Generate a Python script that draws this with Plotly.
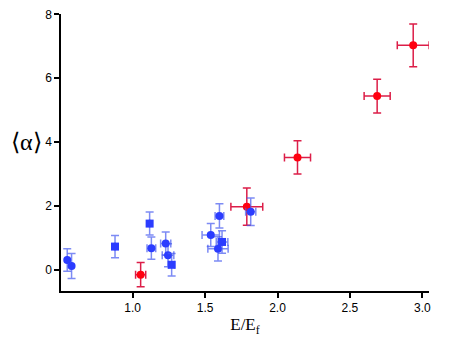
import plotly.graph_objects as go

# blue circles
bc_x = [0.548, 0.578, 1.129, 1.228, 1.244, 1.539, 1.599, 1.589, 1.815]
bc_y = [0.31, 0.125, 0.68, 0.83, 0.46, 1.09, 1.69, 0.66, 1.82]
bc_ey = [0.35, 0.39, 0.35, 0.36, 0.36, 0.36, 0.38, 0.38, 0.43]
bc_ex = [0.0, 0.0, 0.03, 0.035, 0.04, 0.06, 0.03, 0.07, 0.035]

# blue squares
bs_x = [0.878, 1.117, 1.269, 1.617]
bs_y = [0.73, 1.45, 0.16, 0.875]
bs_ey = [0.35, 0.36, 0.35, 0.35]
bs_ex = [0.0, 0.0, 0.02, 0.04]

# red circles
r_x = [1.055, 1.788, 2.138, 2.688, 2.937]
r_y = [-0.15, 1.98, 3.52, 5.44, 7.03]
r_ey = [0.38, 0.58, 0.52, 0.53, 0.67]
r_ex = [0.035, 0.11, 0.09, 0.09, 0.11]

BLUE = "#2b3cff"
BLUE_ERR = "rgba(70,90,240,0.7)"
RED = "#ff0010"
RED_ERR = "#dc1e48"


def trace(x, y, ex, ey, color, ecolor, symbol):
    return go.Scatter(
        x=x, y=y, mode="markers", showlegend=False,
        marker=dict(color=color, size=8, symbol=symbol, line=dict(width=0)),
        error_y=dict(type="data", array=ey, color=ecolor, thickness=1.5, width=4),
        error_x=dict(type="data", array=ex, color=ecolor, thickness=1.5, width=4),
    )


fig = go.Figure()
fig.add_trace(trace(r_x, r_y, r_ex, r_ey, RED, RED_ERR, "circle"))
fig.add_trace(trace(bc_x, bc_y, bc_ex, bc_ey, BLUE, BLUE_ERR, "circle"))
fig.add_trace(trace(bs_x, bs_y, bs_ex, bs_ey, BLUE, BLUE_ERR, "square"))

axis_common = dict(
    showline=True, linecolor="black", linewidth=1.5, mirror=False,
    ticks="outside", ticklen=5, tickwidth=1.5, tickcolor="black",
    showgrid=False, zeroline=False, automargin=False, ticklabeloverflow="allow",
    tickfont=dict(family="Liberation Sans, Arial", size=12, color="black"),
)

fig.update_xaxes(range=[0.505, 3.046], tickvals=[1.0, 1.5, 2.0, 2.5, 3.0],
                 tickformat=".1f",
                 title=dict(text="E/E<sub>f</sub>", standoff=4,
                            font=dict(family="Liberation Serif, Times New Roman", size=17, color="black")),
                 **axis_common)
fig.update_yaxes(range=[-0.66, 8.01], tickvals=[0, 2, 4, 6, 8], **axis_common)

fig.add_annotation(text="⟨α⟩", xref="paper", yref="y", x=-0.045, y=4,
                   xanchor="right", yanchor="middle", showarrow=False,
                   font=dict(family="Liberation Serif, Times New Roman", size=24, color="black"))

# page body has an 8px margin, so the figure is shrunk by that much
fig.update_layout(width=453, height=338, plot_bgcolor="white", paper_bgcolor="white",
                  margin=dict(l=53, r=32, t=6, b=55))

fig.write_html("out.html")
